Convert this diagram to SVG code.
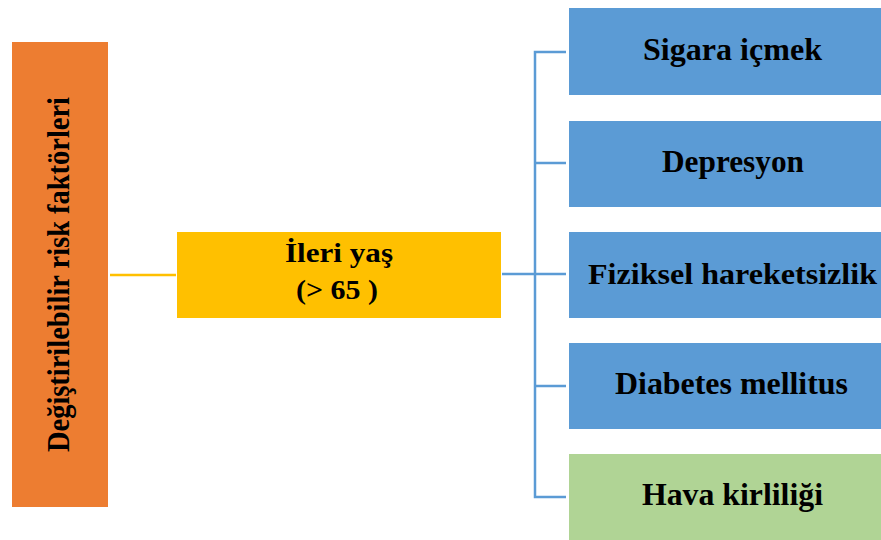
<svg xmlns="http://www.w3.org/2000/svg" width="881" height="540" viewBox="0 0 881 540">
<style>
text{font-family:"Liberation Serif","Times New Roman",serif;font-weight:bold;fill:#000;text-anchor:middle}
.b{fill:#5B9BD5}
.c{fill:none;stroke:#5B9BD5;stroke-width:2.5}
</style>
<rect width="881" height="540" fill="#fff"/>
<g id="connectors">
<line x1="110" y1="275" x2="176" y2="275" stroke="#FFC000" stroke-width="2.5"/>
<line class="c" x1="502" y1="274" x2="535" y2="274"/>
<polyline class="c" points="566,52 535,52 535,497 566,497"/>
<line class="c" x1="535" y1="163" x2="566" y2="163"/>
<line class="c" x1="535" y1="274" x2="566" y2="274"/>
<line class="c" x1="535" y1="386" x2="566" y2="386"/>
</g>
<g id="n-root">
<rect x="12" y="42" width="96" height="465" fill="#ED7D31"/>
<text transform="translate(69,274.5) rotate(-90)" font-size="31" textLength="355" lengthAdjust="spacingAndGlyphs">Değiştirilebilir risk faktörleri</text>
</g>
<g id="n-age">
<rect x="177" y="232" width="324" height="86" fill="#FFC000"/>
<text x="339" y="262" font-size="28" textLength="108" lengthAdjust="spacingAndGlyphs">İleri yaş</text>
<text x="337" y="299" font-size="28" textLength="82" lengthAdjust="spacingAndGlyphs">(&gt; 65 )</text>
</g>
<g id="n-sigara">
<rect class="b" x="569" y="8" width="320" height="87"/>
<text x="732.5" y="60" font-size="31" textLength="179" lengthAdjust="spacingAndGlyphs">Sigara içmek</text>
</g>
<g id="n-depresyon">
<rect class="b" x="569" y="121" width="320" height="86"/>
<text x="733" y="172" font-size="31" textLength="142" lengthAdjust="spacingAndGlyphs">Depresyon</text>
</g>
<g id="n-fiziksel">
<rect class="b" x="569" y="232" width="320" height="86"/>
<text x="732.5" y="284" font-size="30" textLength="289" lengthAdjust="spacingAndGlyphs">Fiziksel hareketsizlik</text>
</g>
<g id="n-diabetes">
<rect class="b" x="569" y="343" width="320" height="86"/>
<text x="731.5" y="394" font-size="31" textLength="233" lengthAdjust="spacingAndGlyphs">Diabetes mellitus</text>
</g>
<g id="n-hava">
<rect x="569" y="454" width="320" height="90" fill="#B0D495"/>
<text x="732.5" y="505" font-size="31" textLength="181" lengthAdjust="spacingAndGlyphs">Hava kirliliği</text>
</g>
</svg>
